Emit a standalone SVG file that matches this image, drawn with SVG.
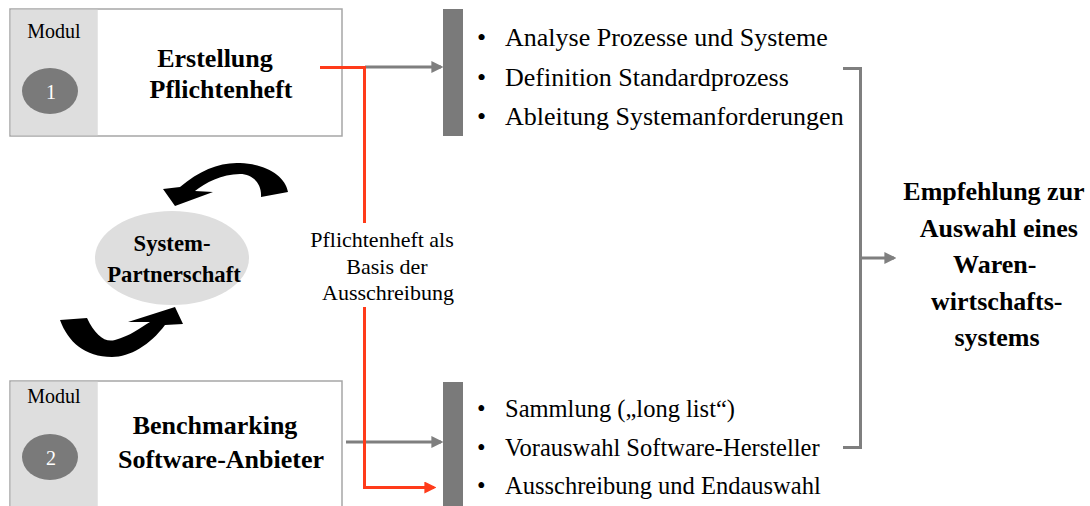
<svg xmlns="http://www.w3.org/2000/svg" width="1090" height="506" viewBox="0 0 1090 506">
<defs>
<style>
.t{font-family:"Liberation Serif","Times New Roman",serif;fill:#000}
.b{font-weight:bold}
.box{fill:#fff;stroke:#a6a6a6;stroke-width:1.5}
.side{fill:#dedede}
.num{fill:#7a7a7a}
.bar{fill:#7a7a7a}
.g{stroke:#7f7f7f;stroke-width:3;fill:none}
.r{stroke:#ff3b1a;stroke-width:3;fill:none}
</style>
<marker id="ag" markerWidth="4" markerHeight="4" refX="3.2" refY="2" orient="auto" markerUnits="strokeWidth"><path d="M0,0 L4,2 L0,4 Z" fill="#7f7f7f"/></marker>
<marker id="ar" markerWidth="4" markerHeight="4" refX="3.2" refY="2" orient="auto" markerUnits="strokeWidth"><path d="M0,0 L4,2 L0,4 Z" fill="#ff3b1a"/></marker>
</defs>
<rect width="1090" height="506" fill="#fff"/>

<g id="modul1">
<rect class="box" x="10" y="9" width="332" height="127"/>
<rect class="side" x="10.75" y="9.75" width="87" height="125.5"/>
<text class="t" x="54" y="38" font-size="20" text-anchor="middle">Modul</text>
<ellipse class="num" cx="50" cy="91" rx="28" ry="23"/>
<text x="51" y="99" font-size="20" text-anchor="middle" fill="#fff" font-family="Liberation Serif,serif">1</text>
<text class="t b" x="215" y="67" font-size="26" text-anchor="middle">Erstellung</text>
<text class="t b" x="221" y="98" font-size="26" text-anchor="middle">Pflichtenheft</text>
</g>

<g id="modul2">
<rect class="box" x="10" y="381" width="332" height="140"/>
<rect class="side" x="10.75" y="381.75" width="87" height="130"/>
<text class="t" x="54" y="403" font-size="20" text-anchor="middle">Modul</text>
<ellipse class="num" cx="50" cy="457" rx="28" ry="23"/>
<text x="51" y="465" font-size="20" text-anchor="middle" fill="#fff" font-family="Liberation Serif,serif">2</text>
<text class="t b" x="215" y="434" font-size="26" text-anchor="middle">Benchmarking</text>
<text class="t b" x="221" y="468" font-size="26" text-anchor="middle">Software-Anbieter</text>
</g>

<g id="partnerschaft">
<ellipse cx="172" cy="258" rx="77" ry="47" fill="#dedede"/>
<text class="t b" x="172" y="251" font-size="22.7" text-anchor="middle">System-</text>
<text class="t b" x="174" y="282" font-size="22.7" text-anchor="middle">Partnerschaft</text>
<path d="M163,189 L180,187 C200,170 220,162 240,163 C265,164 285,175 288,192 L261,197 C262,183 252,174 240,174 C222,174 205,183 195,191 L213,192 L175,206 Z" fill="#000"/>
<path d="M60,320 L87,318 C95,335 105,343 115,340 C130,336 140,328 150,322 L128,322 L175,307 L183,324 L165,325 C150,345 130,357 112,357 C85,357 68,342 60,320 Z" fill="#000"/>
</g>

<g id="liste1">
<rect class="bar" x="443" y="9" width="20" height="127"/>
<text class="t" font-size="26"><tspan x="477" y="46">•</tspan><tspan x="505" y="46">Analyse Prozesse und Systeme</tspan></text>
<text class="t" font-size="26"><tspan x="477" y="86">•</tspan><tspan x="505" y="86">Definition Standardprozess</tspan></text>
<text class="t" font-size="26"><tspan x="477" y="125">•</tspan><tspan x="505" y="125">Ableitung Systemanforderungen</tspan></text>
</g>

<g id="liste2">
<rect class="bar" x="443" y="382" width="20" height="130"/>
<text class="t" font-size="24.5"><tspan x="477" y="417">•</tspan><tspan x="505" y="417">Sammlung („long list“)</tspan></text>
<text class="t" font-size="24.5"><tspan x="477" y="456">•</tspan><tspan x="505" y="456">Vorauswahl Software-Hersteller</tspan></text>
<text class="t" font-size="24.5"><tspan x="477" y="494">•</tspan><tspan x="505" y="494">Ausschreibung und Endauswahl</tspan></text>
</g>

<g id="ergebnis">
<text class="t b" font-size="26" text-anchor="middle">
<tspan x="997" y="200">Empfehlung zur</tspan>
<tspan x="1002" y="237">Auswahl eines</tspan>
<tspan x="998" y="273">Waren-</tspan>
<tspan x="1000" y="310">wirtschafts-</tspan>
<tspan x="997" y="346">systems</tspan>
</text>
</g>

<g id="connectors">
<line class="g" x1="365" y1="67" x2="441" y2="67" marker-end="url(#ag)"/>
<line class="g" x1="346" y1="442" x2="441" y2="442" marker-end="url(#ag)"/>
<path class="g" d="M843,68.5 H860.5 V447.5 H843"/>
<line class="g" x1="860" y1="258" x2="894" y2="258" marker-end="url(#ag)"/>
<path class="r" d="M320,67.5 H364.5 V223"/>
<path class="r" d="M364.5,307 V487.5 H434" marker-end="url(#ar)"/>
<text class="t" font-size="22" text-anchor="middle"><tspan x="382" y="247">Pflichtenheft als</tspan><tspan x="387" y="274">Basis der</tspan><tspan x="388" y="300">Ausschreibung</tspan></text>
</g>
</svg>
